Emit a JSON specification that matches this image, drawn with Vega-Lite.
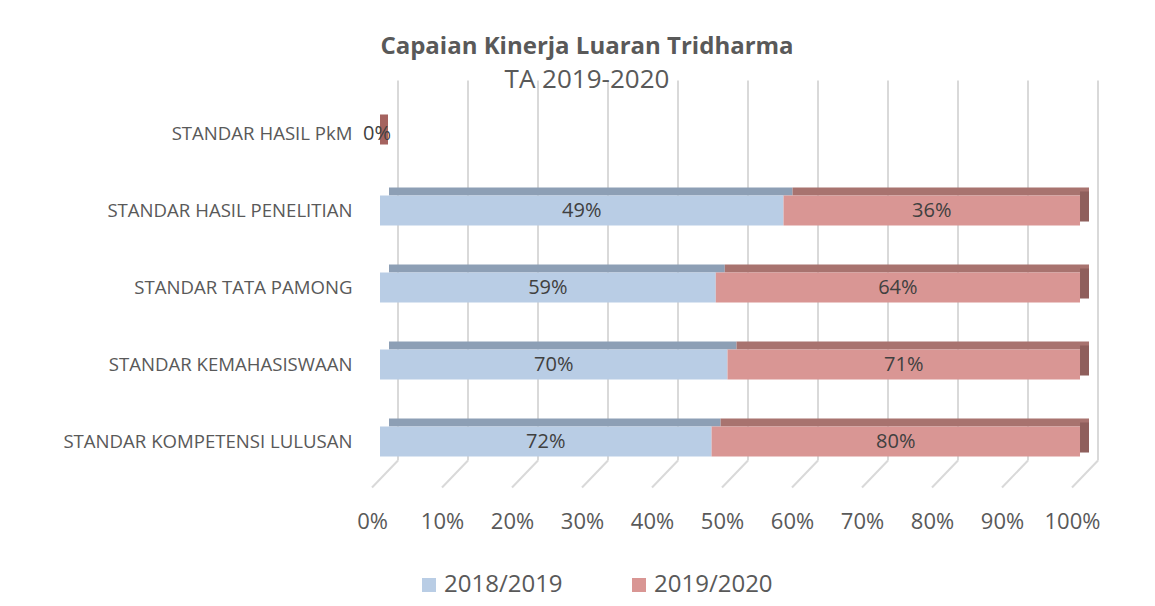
{
  "$schema": "https://vega.github.io/schema/vega-lite/v6.json",
  "width": 700,
  "height": 385,
  "autosize": {"type": "none"},
  "padding": {"left": 380, "top": 95, "right": 75, "bottom": 126},
  "background": "white",
  "config": {"view": {"stroke": null}, "font": "Open Sans"},
  "title": {
    "text": "Capaian Kinerja Luaran Tridharma",
    "subtitle": "TA 2019-2020",
    "anchor": "middle",
    "dx": -143,
    "offset": -14,
    "font": "Open Sans",
    "fontSize": 24,
    "fontWeight": "bold",
    "color": "#595959",
    "subtitleFont": "Open Sans",
    "subtitleFontSize": 26,
    "subtitleColor": "#595959",
    "subtitlePadding": 8
  },
  "datasets": {
    "bars": [
      {"cat": "STANDAR HASIL PkM", "year": "2018/2019", "value": 0},
      {"cat": "STANDAR HASIL PkM", "year": "2019/2020", "value": 0},
      {"cat": "STANDAR HASIL PENELITIAN", "year": "2018/2019", "value": 0.49},
      {"cat": "STANDAR HASIL PENELITIAN", "year": "2019/2020", "value": 0.36},
      {"cat": "STANDAR TATA PAMONG", "year": "2018/2019", "value": 0.59},
      {"cat": "STANDAR TATA PAMONG", "year": "2019/2020", "value": 0.64},
      {"cat": "STANDAR KEMAHASISWAAN", "year": "2018/2019", "value": 0.70},
      {"cat": "STANDAR KEMAHASISWAAN", "year": "2019/2020", "value": 0.71},
      {"cat": "STANDAR KOMPETENSI LULUSAN", "year": "2018/2019", "value": 0.72},
      {"cat": "STANDAR KOMPETENSI LULUSAN", "year": "2019/2020", "value": 0.80}
    ],
    "grid": [
      {"v": 0}, {"v": 0.1}, {"v": 0.2}, {"v": 0.3}, {"v": 0.4}, {"v": 0.5},
      {"v": 0.6}, {"v": 0.7}, {"v": 0.8}, {"v": 0.9}, {"v": 1}
    ]
  },
  "layer": [
    {
      "data": {"name": "grid"},
      "mark": {"type": "rule", "color": "#d9d9d9", "strokeWidth": 2, "xOffset": 18, "yOffset": -38, "y2Offset": 4},
      "encoding": {
        "x": {"field": "v", "type": "quantitative", "title": null},
        "y": {"datum": "STANDAR HASIL PkM", "type": "nominal", "bandPosition": 0, "title": null,
              "scale": {"domain": ["STANDAR HASIL PkM", "STANDAR HASIL PENELITIAN", "STANDAR TATA PAMONG", "STANDAR KEMAHASISWAAN", "STANDAR KOMPETENSI LULUSAN"]}},
        "y2": {"datum": "STANDAR KOMPETENSI LULUSAN", "bandPosition": 1}
      }
    },
    {
      "data": {"name": "grid"},
      "mark": {"type": "rule", "color": "#d9d9d9", "strokeWidth": 2, "xOffset": 18, "x2Offset": -8, "yOffset": 4, "y2Offset": 31},
      "encoding": {
        "x": {"field": "v", "type": "quantitative", "title": null},
        "x2": {"field": "v"},
        "y": {"datum": "STANDAR KOMPETENSI LULUSAN", "type": "nominal", "bandPosition": 1, "title": null},
        "y2": {"datum": "STANDAR KOMPETENSI LULUSAN", "bandPosition": 1}
      }
    },
    {
      "data": {"name": "bars"},
      "transform": [
        {"filter": "datum.cat !== 'STANDAR HASIL PkM'"},
        {"stack": "value", "groupby": ["cat"], "offset": "normalize", "sort": [{"field": "year", "order": "ascending"}], "as": ["x0", "x1"]}
      ],
      "layer": [
        {
          "mark": {"type": "bar", "height": 8, "xOffset": 9, "x2Offset": 9, "yOffset": -19},
          "encoding": {
            "x": {"field": "x0", "type": "quantitative"},
            "x2": {"field": "x1"},
            "y": {"field": "cat", "type": "nominal"},
            "color": {"condition": {"test": "datum.year === '2018/2019'", "value": "#8d9fb5"}, "value": "#a8736f"}
          }
        },
        {
          "transform": [{"filter": "datum.year === '2019/2020'"}],
          "mark": {"type": "bar", "x2Offset": 9, "yOffset": -4, "color": "#8f5f5c"},
          "encoding": {
            "x": {"field": "x1", "type": "quantitative"},
            "x2": {"field": "x1"},
            "y": {"field": "cat", "type": "nominal"}
          }
        },
        {
          "mark": {"type": "bar"},
          "encoding": {
            "x": {
              "field": "x0", "type": "quantitative", "title": null,
              "scale": {"domain": [0, 1], "nice": false},
              "axis": {
                "values": [0, 0.1, 0.2, 0.3, 0.4, 0.5, 0.6, 0.7, 0.8, 0.9, 1],
                "format": ".0%", "grid": false, "domain": false, "ticks": false,
                "labelFontSize": 22, "labelColor": "#595959", "labelPadding": 31,
                "labelOffset": -8, "labelFont": "Open Sans", "labelFlush": false, "labelOverlap": false
              }
            },
            "x2": {"field": "x1"},
            "y": {
              "field": "cat", "type": "nominal", "title": null,
              "scale": {"domain": ["STANDAR HASIL PkM", "STANDAR HASIL PENELITIAN", "STANDAR TATA PAMONG", "STANDAR KEMAHASISWAAN", "STANDAR KOMPETENSI LULUSAN"], "paddingInner": 0.61, "paddingOuter": 0.305},
              "axis": {
                "domain": false, "ticks": false, "labelPadding": 28, "labelLimit": 500,
                "labelFontSize": 18.6, "labelColor": "#595959", "labelFont": "Open Sans"
              }
            },
            "color": {
              "field": "year", "type": "nominal", "title": null,
              "scale": {"domain": ["2018/2019", "2019/2020"], "range": ["#b9cde5", "#d99694"]},
              "legend": {
                "orient": "none", "legendX": 37, "legendY": 478, "direction": "horizontal",
                "symbolType": "square", "symbolSize": 196, "symbolStrokeWidth": 0,
                "labelFontSize": 24, "labelColor": "#595959", "labelFont": "Open Sans",
                "labelOffset": 3, "columnPadding": 64
              }
            }
          }
        },
        {
          "transform": [
            {"fold": ["x0", "x1"], "as": ["edge", "pos"]},
            {"aggregate": [{"op": "mean", "field": "pos", "as": "mid"}], "groupby": ["cat", "year", "value"]}
          ],
          "mark": {"type": "text", "fontSize": 20, "color": "#404040", "font": "Open Sans"},
          "encoding": {
            "x": {"field": "mid", "type": "quantitative"},
            "y": {"field": "cat", "type": "nominal"},
            "text": {"field": "value", "type": "quantitative", "format": ".0%"}
          }
        }
      ]
    },
    {
      "data": {"name": "bars"},
      "transform": [{"filter": "datum.cat === 'STANDAR HASIL PkM' && datum.year === '2019/2020'"}],
      "layer": [
        {
          "mark": {"type": "bar", "x2Offset": 8, "yOffset": -4, "color": "#a5635f"},
          "encoding": {
            "x": {"datum": 0, "type": "quantitative"},
            "x2": {"datum": 0},
            "y": {"field": "cat", "type": "nominal"}
          }
        },
        {
          "mark": {"type": "text", "fontSize": 20, "color": "#404040", "font": "Open Sans", "dx": -3},
          "encoding": {
            "x": {"datum": 0, "type": "quantitative"},
            "y": {"field": "cat", "type": "nominal"},
            "text": {"field": "value", "type": "quantitative", "format": ".0%"}
          }
        }
      ]
    }
  ]
}
